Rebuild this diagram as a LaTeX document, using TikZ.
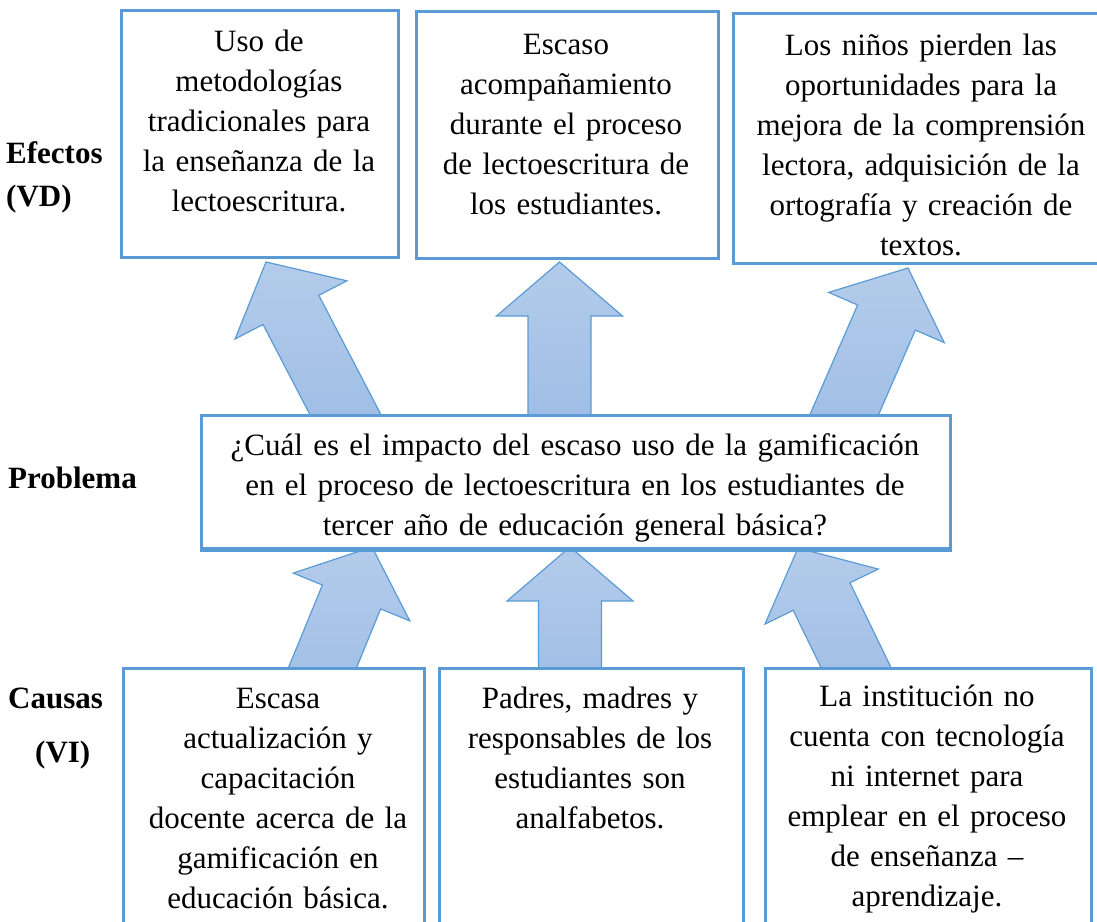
\documentclass[tikz,border=0pt]{standalone}
\usepackage{fontspec}
\setmainfont{Liberation Serif}
\definecolor{boxblue}{HTML}{5B9BD5}
\definecolor{arrtop}{HTML}{B4CCEB}
\definecolor{arrbot}{HTML}{9CBBE4}
\newcommand{\fl}{\rule{0pt}{28pt}}
\newcommand{\blockarrow}[4]{%
  \begin{scope}[shift={(#1,#2)}, rotate=#3]
    \draw[arrowbody] (0,0) -- (63,54) -- (31.5,54) -- (31.5,#4) -- (-31.5,#4) -- (-31.5,54) -- (-63,54) -- cycle;
  \end{scope}}
\begin{document}
\begin{tikzpicture}[x=1pt,y=-1pt,
  box/.style={draw=boxblue, line width=3pt, fill=white, inner sep=0pt, anchor=north west},
  txt/.style={font=\fontsize{31}{40}\selectfont, align=center, inner sep=0pt, anchor=north, text width=#1},
  lbl/.style={font=\bfseries\fontsize{31}{40}\selectfont, inner sep=0pt, anchor=base west},
  arrowbody/.style={draw=boxblue, line width=1.2pt, top color=arrtop, bottom color=arrbot, line join=miter}]
\useasboundingbox (0,0) rectangle (1097,921);
% arrows (drawn first, boxes cover their bases)
\blockarrow{266}{262}{27.5}{200}
\blockarrow{559.5}{262}{0}{180}
\blockarrow{908}{268}{-23.5}{200}
\blockarrow{372}{547}{-22.3}{175}
\blockarrow{570}{547}{0}{160}
\blockarrow{798}{548}{25.9}{175}
% effect boxes
\node[box, minimum width=277, minimum height=247] (e1) at (120,9) {};
\node[box, minimum width=302, minimum height=247] (e2) at (415,10) {};
\node[box, minimum width=381, minimum height=250] (e3) at (732,12) {};
% problem box
\node[box, minimum width=749, minimum height=133] (pb) at (200,414) {};
% cause boxes
\node[box, minimum width=301, minimum height=280] (c1) at (122,667) {};
\node[box, minimum width=304, minimum height=280] (c2) at (438,667) {};
\node[box, minimum width=326, minimum height=280] (c3) at (764,667) {};
% texts
\node[txt=300] (t1) at (259,23) {\fl Uso de\\ metodologías\\ tradicionales para\\ la enseñanza de la\\ lectoescritura.};
\node[txt=300] (t2) at (566,26) {\fl Escaso\\ acompañamiento\\ durante el proceso\\ de lectoescritura de\\ los estudiantes.};
\node[txt=380] (t3) at (921,27) {\fl Los niños pierden las\\ oportunidades para la\\ mejora de la comprensión\\ lectora, adquisición de la\\ ortografía y creación de\\ textos.};
\begin{scope}
\clip (pb.north west) rectangle (pb.south east);
\node[txt=740] (tp) at (575,427) {\fl ¿Cuál es el impacto del escaso uso de la gamificación\\ en el proceso de lectoescritura en los estudiantes de\\ tercer año de educación general básica?};
\end{scope}
\draw[draw=boxblue, line width=3pt] (pb.south west) -- (pb.south east);
\node[txt=300] (t4) at (278,680) {\fl Escasa\\ actualización y\\ capacitación\\ docente acerca de la\\ gamificación en\\ educación básica.};
\node[txt=300] (t5) at (590,680) {\fl Padres, madres y\\ responsables de los\\ estudiantes son\\ analfabetos.};
\node[txt=320] (t6) at (927,678) {\fl La institución no\\ cuenta con tecnología\\ ni internet para\\ emplear en el proceso\\ de enseñanza –\\ aprendizaje.};
% side labels
\node[lbl] (l1) at (6,163) {Efectos};
\node[lbl] (l2) at (6,206) {(VD)};
\node[lbl] (l3) at (8,488) {Problema};
\node[lbl] (l4) at (8,708) {Causas};
\node[lbl] (l5) at (35,762) {(VI)};
\end{tikzpicture}
\end{document}
